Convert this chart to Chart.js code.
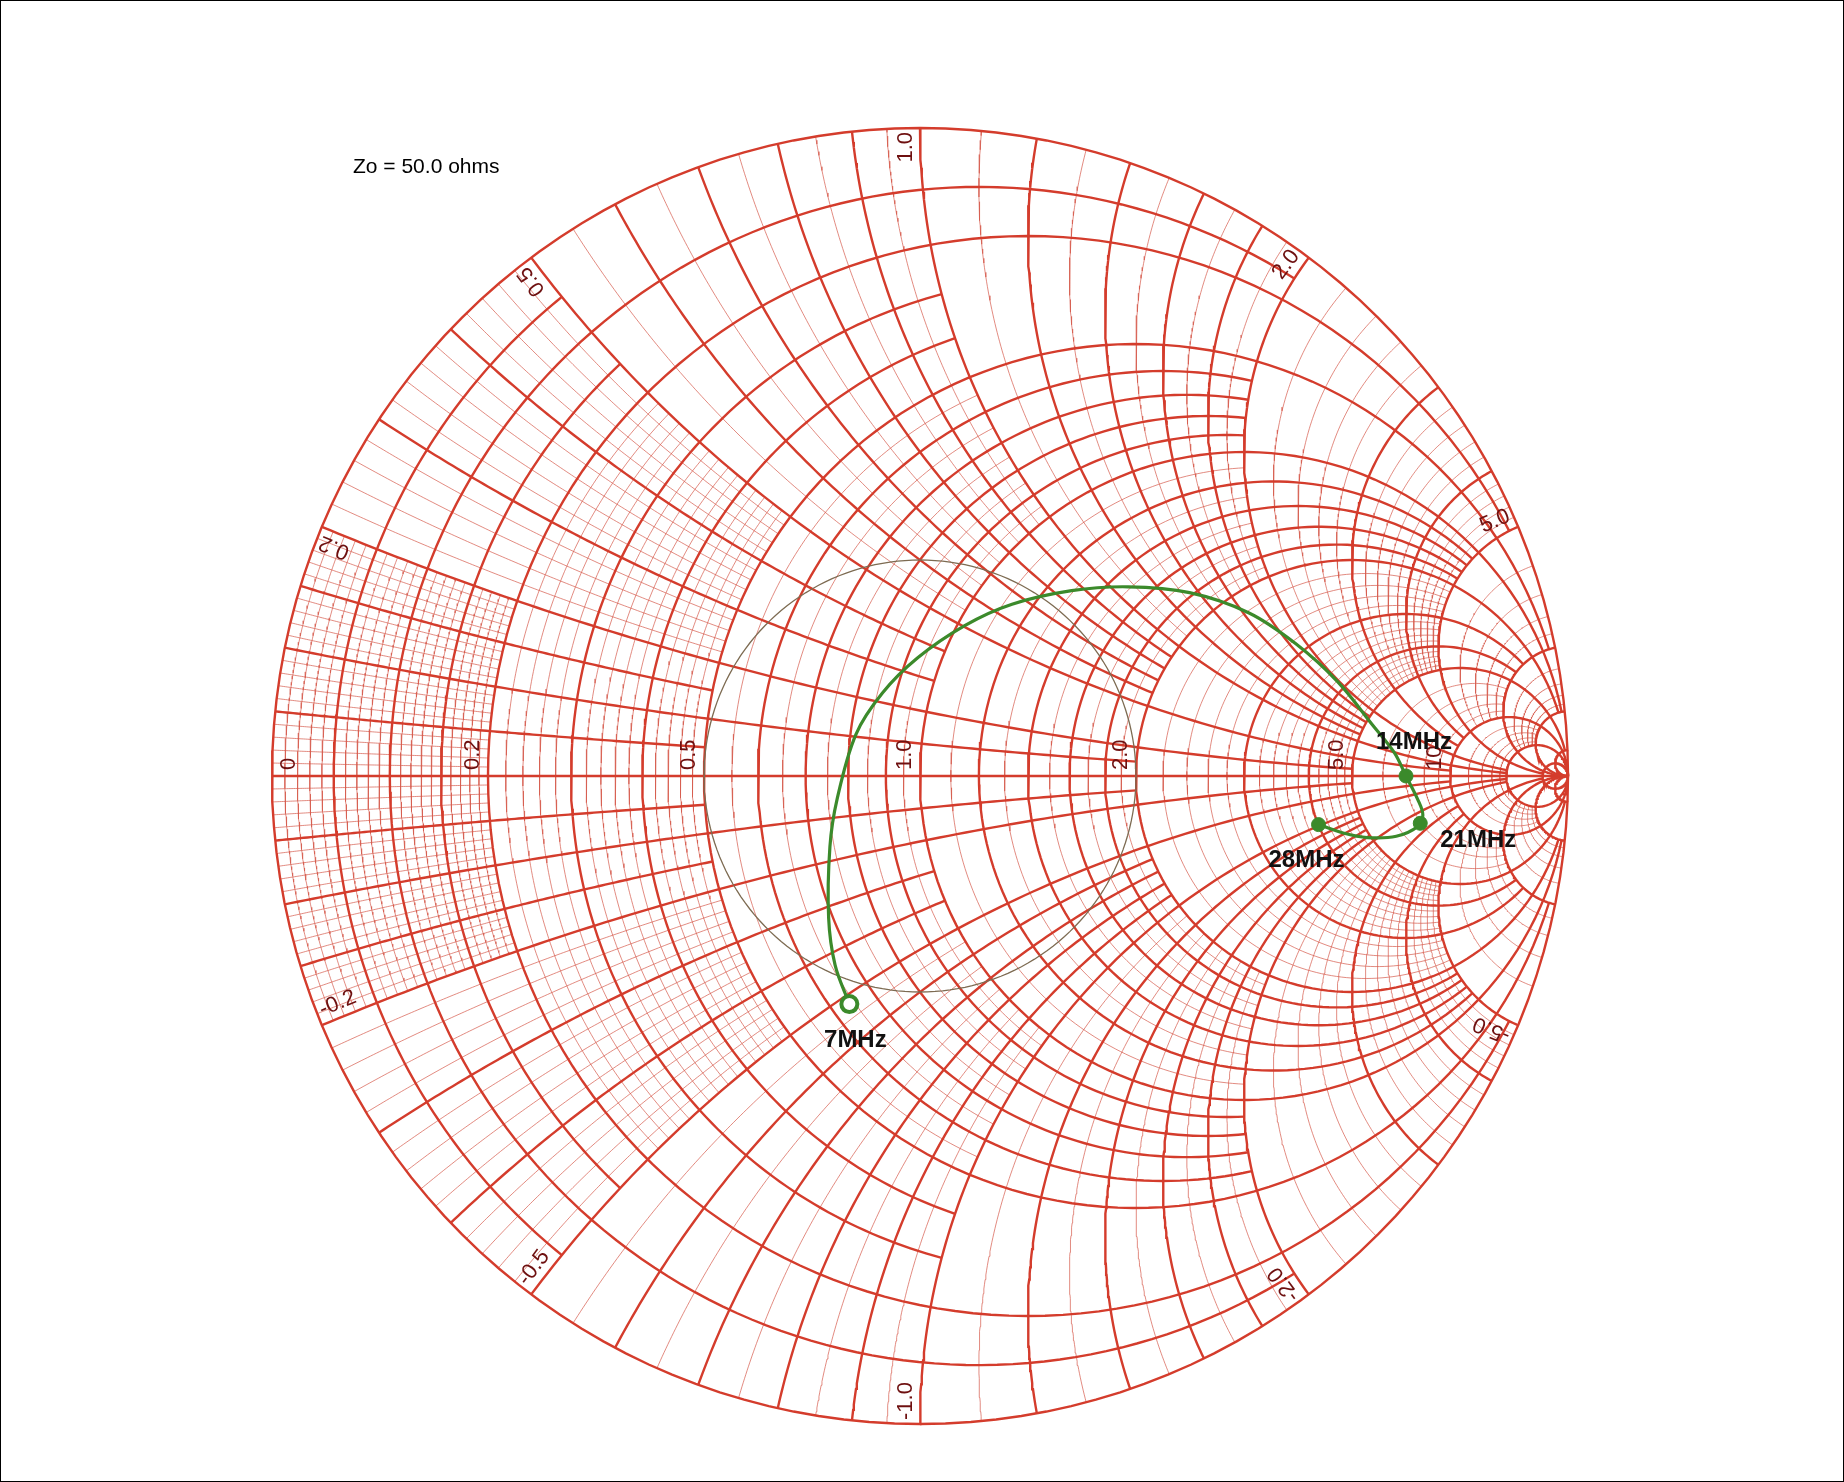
<!DOCTYPE html>
<html>
<head>
<meta charset="utf-8">
<script src="https://cdn.jsdelivr.net/npm/chart.js@4.4.1/dist/chart.umd.min.js"></script>
<style>
  html, body { margin: 0; padding: 0; background: #fff; }
  #wrap { width: 1844px; height: 1482px; box-sizing: border-box; border: 1px solid #000; position: relative; }
  canvas { display: block; }
</style>
</head>
<body>
<div id="wrap"><canvas id="smith" width="1842" height="1480"></canvas></div>
<script>
// ==========================================
// DATA: measured impedance trace (reflection coefficient, re / im)
// ==========================================
const traceRe = [-0.109, -0.131, -0.141, -0.139, -0.128, -0.099, -0.058, -0.004, 0.069, 0.142, 0.234, 0.321, 0.416, 0.507, 0.580, 0.644, 0.699, 0.732, 0.750, 0.768, 0.776, 0.768, 0.735, 0.690, 0.653, 0.615];
const traceIm = [-0.352, -0.292, -0.219, -0.109, -0.036, 0.064, 0.128, 0.182, 0.232, 0.265, 0.286, 0.292, 0.283, 0.252, 0.204, 0.146, 0.078, 0.036, 0.000, -0.036, -0.060, -0.078, -0.093, -0.095, -0.088, -0.075];

const markerLabels = ['7MHz', '14MHz', '21MHz', '28MHz'];
const markerRe = [-0.109, 0.750, 0.772, 0.615];
const markerIm = [-0.352, 0.000, -0.073, -0.075];

// chart grid: resistance / reactance values and axis labels
const rLabelValues = [0, 0.2, 0.5, 1.0, 2.0, 5.0, 10];
const rLabelText = ['0', '0.2', '0.5', '1.0', '2.0', '5.0', '10'];
const xLabelValues = [0.2, 0.5, 1.0, 2.0, 5.0, -0.2, -0.5, -1.0, -2.0, -5.0];
const xLabelText = ['0.2', '0.5', '1.0', '2.0', '5.0', '-0.2', '-0.5', '-1.0', '-2.0', '-5.0'];

// grid bands: [from, to, step, minor limit, major step, major limit]
const gridBands = [
  [0.01, 0.19, 0.01, 0.2, 0.05, 0.5],
  [0.22, 0.48, 0.02, 0.5, 0.1, 1],
  [0.55, 0.95, 0.05, 1, 0.1, 2],
  [1.1, 1.9, 0.1, 2, 0.2, 5],
  [2.2, 4.8, 0.2, 5, 1, 10],
  [6, 9, 1, 10, 5, 20],
  [12, 18, 2, 20, 10, 50]
];
// heavy lines and how far each one runs
const heavyValues = [0.1, 0.2, 0.5, 1, 2, 5, 10, 20, 50];
const heavyLimits = [2, 5, 10, 20, 20, 50, Infinity, Infinity, Infinity];

const VSWR = 2;

// ==========================================
// GRID GEOMETRY
// ==========================================
const MAJOR = '#d43c2c';
const MINOR = 'rgba(214, 90, 75, 0.7)';

function gamma(r, x) {
  const d = (r + 1) * (r + 1) + x * x;
  return { x: (r * r + x * x - 1) / d, y: (2 * x) / d };
}

function angDiff(a, b) {
  let d = b - a;
  while (d > Math.PI) d -= 2 * Math.PI;
  while (d < -Math.PI) d += 2 * Math.PI;
  return d;
}

// circle of constant resistance r for |x| <= lim
function rCircle(r, lim) {
  const cx = r / (1 + r), rad = 1 / (1 + r);
  let a0 = 0;
  if (isFinite(lim)) {
    const p = gamma(r, lim);
    a0 = Math.atan2(p.y, p.x - cx);
  }
  const pts = [];
  const n = 160;
  for (let i = 0; i <= n; i++) {
    const a = a0 + (2 * Math.PI - 2 * a0) * i / n;
    pts.push({ x: cx + rad * Math.cos(a), y: rad * Math.sin(a) });
  }
  return pts;
}

// arc of constant reactance x for 0 <= r <= lim
function xArc(x, lim) {
  const cy = 1 / x, rad = 1 / Math.abs(x);
  const p0 = gamma(0, x);
  const p1 = isFinite(lim) ? gamma(lim, x) : { x: 1, y: 0 };
  const a0 = Math.atan2(p0.y - cy, p0.x - 1);
  const d = angDiff(a0, Math.atan2(p1.y - cy, p1.x - 1));
  const pts = [];
  const n = 120;
  for (let i = 0; i <= n; i++) {
    const a = a0 + d * i / n;
    pts.push({ x: 1 + rad * Math.cos(a), y: cy + rad * Math.sin(a) });
  }
  return pts;
}

function lineSet(data, major) {
  return {
    data,
    showLine: true,
    pointRadius: 0,
    borderColor: major ? MAJOR : MINOR,
    borderWidth: major ? 2.4 : 1,
    tension: 0,
    clip: false,
    order: major ? 5 : 6
  };
}

const gridSets = [];
function addValue(v, lim, major) {
  gridSets.push(lineSet(rCircle(v, lim), major));
  gridSets.push(lineSet(xArc(v, lim), major));
  gridSets.push(lineSet(xArc(-v, lim), major));
}

gridBands.forEach(([from, to, step, minLim, majStep, majLim]) => {
  const n = Math.round((to - from) / step);
  for (let i = 0; i <= n; i++) {
    const v = +(from + i * step).toFixed(3);
    if (heavyValues.includes(v)) continue;
    const isMaj = Math.abs(v / majStep - Math.round(v / majStep)) < 1e-6;
    addValue(v, isMaj ? majLim : minLim, isMaj);
  }
});
heavyValues.forEach((v, i) => addValue(v, heavyLimits[i], true));
// outer circle r = 0 and the real axis
gridSets.push(lineSet(rCircle(0, Infinity), true));
gridSets.push(lineSet([{ x: -1, y: 0 }, { x: 1, y: 0 }], true));

// VSWR circle
const g = (VSWR - 1) / (VSWR + 1);
const vswrPts = [];
for (let i = 0; i <= 180; i++) {
  const a = 2 * Math.PI * i / 180;
  vswrPts.push({ x: g * Math.cos(a), y: g * Math.sin(a) });
}

// ==========================================
// LABEL PLUGIN
// ==========================================
const labelPlugin = {
  id: 'smithLabels',
  afterDatasetsDraw(chart) {
    const { ctx, scales: { x: sx, y: sy } } = chart;
    const cx = sx.getPixelForValue(0), cy = sy.getPixelForValue(0);
    const R = sx.getPixelForValue(1) - cx;
    ctx.save();
    ctx.fillStyle = '#6e1010';
    ctx.font = '22px "Liberation Sans", Arial, sans-serif';

    rLabelValues.forEach((r, i) => {
      const px = sx.getPixelForValue((r - 1) / (r + 1));
      ctx.save();
      ctx.translate(r === 0 ? px + 6 : px - 4, cy - 6);
      ctx.rotate(-Math.PI / 2);
      ctx.textAlign = 'left';
      ctx.textBaseline = r === 0 ? 'top' : 'bottom';
      ctx.fillText(rLabelText[i], 0, 0);
      ctx.restore();
    });

    xLabelValues.forEach((xv, i) => {
      const p = gamma(0, xv);
      const a = Math.atan2(p.y, p.x);
      ctx.save();
      ctx.translate(cx + (R - 4) * Math.cos(a), cy - (R - 4) * Math.sin(a));
      if (xv > 0) {
        ctx.rotate(-a);
        ctx.textAlign = 'right';
      } else {
        ctx.rotate(Math.PI - a);
        ctx.textAlign = 'left';
      }
      ctx.textBaseline = 'bottom';
      ctx.fillText(xLabelText[i], 0, -3);
      ctx.restore();
    });

    // frequency labels
    const offs = [[6, 36], [8, -34], [58, 17], [-12, 36]];
    ctx.fillStyle = '#111';
    ctx.font = 'bold 24px "Liberation Sans", Arial, sans-serif';
    ctx.textAlign = 'center';
    ctx.textBaseline = 'middle';
    markerLabels.forEach((t, i) => {
      const px = sx.getPixelForValue(markerRe[i]), py = sy.getPixelForValue(markerIm[i]);
      ctx.fillText(t, px + offs[i][0], py + offs[i][1]);
    });

    ctx.fillStyle = '#000';
    ctx.font = '21px "Liberation Sans", Arial, sans-serif';
    ctx.textAlign = 'left';
    ctx.fillText('Zo = 50.0 ohms', 352, 166);
    ctx.restore();
  }
};

// ==========================================
// CHART
// ==========================================
const ctx = document.getElementById('smith').getContext('2d');
new Chart(ctx, {
  type: 'scatter',
  data: {
    datasets: [
      ...gridSets,
      {
        data: vswrPts, showLine: true, pointRadius: 0,
        borderColor: '#7d6b52', borderWidth: 1.3, clip: false, order: 3
      },
      {
        data: traceRe.map((v, i) => ({ x: v, y: traceIm[i] })),
        showLine: true, pointRadius: 0, borderColor: '#3b8a2b', borderWidth: 3.2,
        tension: 0.35, clip: false, order: 2
      },
      {
        data: markerRe.map((v, i) => ({ x: v, y: markerIm[i] })),
        showLine: false,
        pointRadius: [8, 7, 7, 7],
        pointBorderWidth: [4, 1, 1, 1],
        pointBackgroundColor: ['#ffffff', '#3b8a2b', '#3b8a2b', '#3b8a2b'],
        pointBorderColor: '#3b8a2b',
        clip: false, order: 1
      }
    ]
  },
  options: {
    responsive: false,
    animation: false,
    devicePixelRatio: 1,
    layout: { padding: { left: 271, right: 275, top: 127, bottom: 57 } },
    scales: {
      x: { type: 'linear', min: -1, max: 1, display: false },
      y: { type: 'linear', min: -1, max: 1, display: false }
    },
    plugins: { legend: { display: false }, tooltip: { enabled: false } },
    events: []
  },
  plugins: [labelPlugin]
});
</script>
</body>
</html>
